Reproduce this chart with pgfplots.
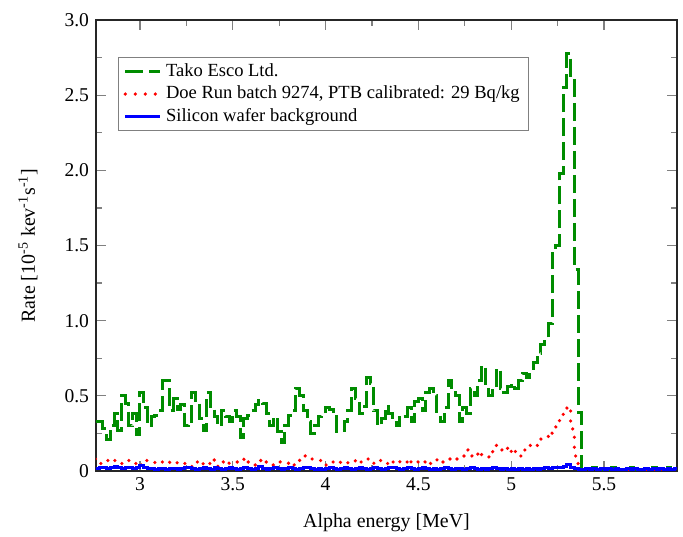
\documentclass[border=0pt]{standalone}
\usepackage{fontspec}
\setmainfont{Liberation Serif}
\usepackage{pgfplots}
\usepackage{pgfplotstable}
\pgfplotsset{compat=1.18}
\definecolor{tgreen}{RGB}{0,140,0}
\pgfplotstableread{
x g r b
2.76 0.33 0.08 0.015
2.78 0.33 0.05 0.020
2.80 0.28 0.07 0.025
2.82 0.21 0.07 0.015
2.84 0.30 0.06 0.020
2.86 0.38 0.07 0.030
2.88 0.27 0.06 0.020
2.90 0.50 0.05 0.015
2.92 0.45 0.07 0.025
2.94 0.30 0.06 0.020
2.96 0.38 0.05 0.015
2.98 0.24 0.06 0.025
3.00 0.52 0.04 0.035
3.02 0.42 0.07 0.025
3.04 0.30 0.06 0.015
3.06 0.36 0.06 0.015
3.08 0.37 0.05 0.010
3.10 0.40 0.06 0.015
3.12 0.60 0.06 0.015
3.14 0.60 0.05 0.010
3.16 0.40 0.06 0.015
3.18 0.48 0.05 0.015
3.20 0.41 0.06 0.010
3.22 0.44 0.06 0.015
3.24 0.30 0.05 0.020
3.26 0.32 0.03 0.025
3.28 0.52 0.05 0.015
3.30 0.47 0.06 0.010
3.32 0.35 0.04 0.015
3.34 0.27 0.06 0.020
3.36 0.52 0.05 0.015
3.38 0.43 0.08 0.010
3.40 0.36 0.04 0.020
3.42 0.30 0.03 0.015
3.44 0.40 0.06 0.010
3.46 0.36 0.07 0.015
3.48 0.33 0.05 0.025
3.50 0.40 0.05 0.015
3.52 0.36 0.06 0.010
3.54 0.22 0.08 0.015
3.56 0.35 0.05 0.025
3.58 0.37 0.06 0.015
3.60 0.40 0.05 0.010
3.62 0.44 0.04 0.015
3.64 0.47 0.07 0.030
3.66 0.45 0.05 0.015
3.68 0.38 0.06 0.010
3.70 0.30 0.04 0.015
3.72 0.36 0.05 0.025
3.74 0.26 0.06 0.015
3.76 0.19 0.05 0.010
3.78 0.30 0.05 0.015
3.80 0.37 0.06 0.020
3.82 0.40 0.04 0.015
3.84 0.55 0.05 0.010
3.86 0.50 0.09 0.015
3.88 0.40 0.10 0.020
3.90 0.33 0.09 0.025
3.92 0.25 0.08 0.015
3.94 0.30 0.08 0.010
3.96 0.36 0.07 0.015
3.98 0.38 0.05 0.010
4.00 0.42 0.04 0.015
4.02 0.41 0.05 0.020
4.04 0.36 0.06 0.015
4.06 0.26 0.05 0.010
4.08 0.27 0.06 0.015
4.10 0.33 0.05 0.025
4.12 0.40 0.06 0.015
4.14 0.55 0.07 0.010
4.16 0.48 0.05 0.015
4.18 0.38 0.06 0.020
4.20 0.43 0.07 0.015
4.22 0.62 0.08 0.010
4.24 0.58 0.06 0.015
4.26 0.40 0.05 0.025
4.28 0.30 0.07 0.015
4.30 0.35 0.06 0.010
4.32 0.43 0.05 0.015
4.34 0.38 0.04 0.025
4.36 0.32 0.06 0.020
4.38 0.30 0.05 0.015
4.40 0.37 0.07 0.010
4.42 0.36 0.06 0.015
4.44 0.42 0.04 0.025
4.46 0.33 0.07 0.015
4.48 0.46 0.06 0.010
4.50 0.48 0.05 0.015
4.52 0.40 0.06 0.020
4.54 0.52 0.07 0.015
4.56 0.55 0.05 0.010
4.58 0.50 0.06 0.015
4.60 0.38 0.08 0.010
4.62 0.33 0.06 0.015
4.64 0.42 0.07 0.020
4.66 0.60 0.08 0.015
4.68 0.52 0.07 0.010
4.70 0.50 0.08 0.015
4.72 0.33 0.09 0.015
4.74 0.42 0.10 0.010
4.76 0.38 0.14 0.015
4.78 0.55 0.10 0.020
4.80 0.50 0.12 0.015
4.82 0.60 0.09 0.010
4.84 0.70 0.11 0.015
4.86 0.58 0.10 0.010
4.88 0.50 0.09 0.015
4.90 0.55 0.13 0.020
4.92 0.68 0.17 0.015
4.94 0.55 0.14 0.010
4.96 0.52 0.16 0.015
4.98 0.56 0.12 0.010
5.00 0.58 0.15 0.015
5.02 0.55 0.13 0.010
5.04 0.60 0.10 0.015
5.06 0.65 0.14 0.010
5.08 0.62 0.15 0.015
5.10 0.68 0.17 0.010
5.12 0.72 0.18 0.015
5.14 0.78 0.17 0.010
5.16 0.84 0.22 0.015
5.18 0.88 0.23 0.020
5.20 0.98 0.22 0.015
5.22 1.45 0.27 0.020
5.24 1.50 0.30 0.025
5.26 1.98 0.36 0.020
5.28 2.55 0.40 0.030
5.30 2.78 0.43 0.045
5.32 2.60 0.28 0.020
5.34 1.34 0.10 0.015
5.36 0.39 0.02 0.010
5.38 0.01 0.00 0.010
5.40 0.00 0.01 0.015
5.42 0.01 0.00 0.010
5.44 0.02 0.00 0.015
5.46 0.01 0.01 0.010
5.48 0.01 0.00 0.015
5.50 0.00 0.00 0.010
5.52 0.01 0.01 0.015
5.54 0.02 0.00 0.010
5.56 0.01 0.00 0.015
5.58 0.01 0.00 0.010
5.60 0.00 0.01 0.010
5.62 0.01 0.00 0.015
5.64 0.02 0.00 0.010
5.66 0.01 0.00 0.015
5.68 0.01 0.01 0.010
5.70 0.01 0.00 0.010
5.72 0.00 0.00 0.015
5.74 0.01 0.00 0.010
5.76 0.02 0.01 0.015
5.78 0.01 0.00 0.010
5.80 0.01 0.00 0.015
5.82 0.00 0.00 0.010
5.84 0.02 0.01 0.015
5.86 0.01 0.00 0.010
5.88 0.01 0.00 0.015
5.90 0.01 0.00 0.015
}\datatable
\begin{document}
\begin{tikzpicture}
\path[use as bounding box] (-48bp,-33bp) rectangle (293.5bp,235.5bp);
\begin{axis}[
  at={(0,0)}, anchor=origin,
  scale only axis,
  width=290.5bp, height=225.5bp,
  xmin=2.763, xmax=5.893,
  ymin=0, ymax=3.0,
  xtick={3,3.5,4,4.5,5,5.5},
  xticklabels={3,3.5,4,4.5,5,5.5},
  ytick={0,0.5,1,1.5,2,2.5,3},
  yticklabels={0,0.5,1.0,1.5,2.0,2.5,3.0},
  minor x tick num=1,
  minor y tick num=1,
  tick align=inside,
  major tick length=5bp,
  minor tick length=3bp,
  tick style={gray, line width=0.6bp},
  axis line style={line width=0.8bp, black!85},
  ticklabel style={font=\fontsize{9.8}{11}\selectfont},
  /pgf/number format/assume math mode=true,
  xlabel={Alpha energy [MeV]},
  ylabel={Rate [10\textsuperscript{-5} kev\textsuperscript{-1}s\textsuperscript{-1}]},
  label style={font=\fontsize{10}{12}\selectfont},
  xlabel style={at={(axis description cs:0.5,0)}, anchor=center, yshift=-26bp},
  ylabel style={at={(axis description cs:-0.117,0.5)}, anchor=center},
  legend style={at={([xshift=11bp,yshift=-18.5bp]rel axis cs:0,1)}, anchor=north west,
    draw=gray, line width=0.5bp, font=\fontsize{9.3}{10}\selectfont,
    inner xsep=2.5bp, inner ysep=1bp, row sep=-0.6bp,
    /tikz/every even column/.append style={column sep=0bp}},
  legend cell align=left,
  legend image code/.code={\draw[#1] (0bp,0bp) -- (17.5bp,0bp);},
]
\addplot[const plot mark left, color=tgreen, line width=1.5bp, dash pattern=on 9bp off 3bp] table[x=x,y=g]{\datatable};
\addlegendentry{Tako Esco Ltd.}
\addplot[const plot mark left, color=red, line width=1.8bp, line cap=round, dash pattern=on 0bp off 5bp] table[x=x,y=r]{\datatable};
\addlegendentry{Doe Run batch 9274, PTB calibrated: 29 Bq/kg}
\addplot[const plot mark left, color=blue, line width=1.5bp] table[x=x,y=b]{\datatable};
\addlegendentry{Silicon wafer background}
\end{axis}
\end{tikzpicture}
\end{document}
